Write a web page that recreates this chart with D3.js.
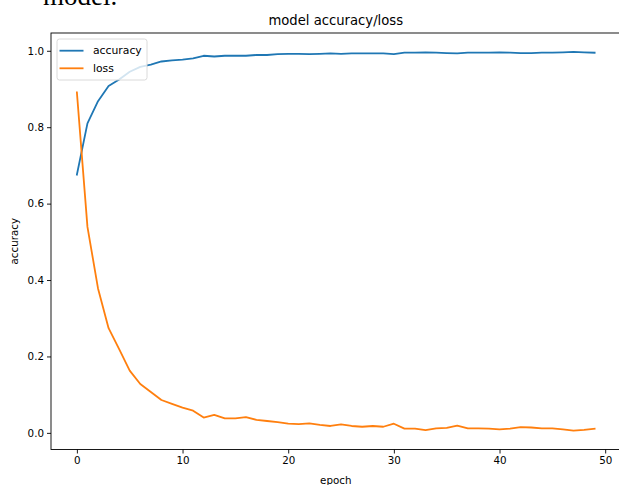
<!DOCTYPE html>
<html>
<head>
<meta charset="utf-8">
<script src="https://cdn.jsdelivr.net/npm/d3@7"></script>
<style>
  html, body { margin: 0; padding: 0; background: #fff; overflow: hidden; }
  text { font-family: "DejaVu Sans", sans-serif; fill: #000; }
</style>
</head>
<body>
<div id="content"></div>
<script>
// values
const epochs = d3.range(50);
const accuracy = [
  0.676, 0.810, 0.868, 0.908, 0.925, 0.945, 0.958, 0.964, 0.972, 0.975,
  0.977, 0.980, 0.987, 0.985, 0.987, 0.987, 0.987, 0.989, 0.989, 0.991,
  0.992, 0.992, 0.991, 0.992, 0.993, 0.992, 0.993, 0.993, 0.993, 0.993,
  0.991, 0.995, 0.995, 0.996, 0.995, 0.994, 0.993, 0.995, 0.995, 0.995,
  0.996, 0.995, 0.994, 0.994, 0.995, 0.995, 0.996, 0.997, 0.996, 0.995
];
const loss = [
  0.891, 0.539, 0.378, 0.274, 0.219, 0.163, 0.128, 0.107, 0.086, 0.076,
  0.066, 0.058, 0.040, 0.047, 0.038, 0.038, 0.041, 0.034, 0.031, 0.028,
  0.024, 0.023, 0.025, 0.021, 0.018, 0.022, 0.018, 0.016, 0.018, 0.016,
  0.024, 0.011, 0.011, 0.007, 0.012, 0.013, 0.019, 0.012, 0.012, 0.011,
  0.009, 0.011, 0.015, 0.014, 0.012, 0.012, 0.009, 0.006, 0.008, 0.011
];
const series = [
  { name: "accuracy", values: accuracy, color: "#1f77b4" },
  { name: "loss", values: loss, color: "#ff7f0e" }
];
const xTicks = [0, 10, 20, 30, 40, 50];
const yTicks = [0.0, 0.2, 0.4, 0.6, 0.8, 1.0];

const W = 619, H = 485;
const plotLeft = 51, plotRight = 620.5, plotTop = 33, plotBottom = 449.5;

const svg = d3.select("#content")
    .append("svg")
    .attr("width", W)
    .attr("height", H);

// matplotlib style 5% margins
function padded(lo, hi) {
    const m = (hi - lo) * 0.05;
    return [lo - m, hi + m];
}
const allY = accuracy.concat(loss);
const x = d3.scaleLinear().domain(padded(0, epochs.length - 1)).range([plotLeft, plotRight]);
const y = d3.scaleLinear().domain(padded(d3.min(allY), d3.max(allY))).range([plotBottom, plotTop]);

// text cut off at the top of the page
svg.append("text")
    .attr("x", 43)
    .attr("y", 5)
    .style("font-family", "'Liberation Serif', serif")
    .style("font-size", "27px")
    .text("model.");

const lineGen = d3.line()
    .x(function (d, i) { return x(epochs[i]); })
    .y(function (d) { return y(d); });

svg.append("g")
    .selectAll("path")
    .data(series)
    .enter()
    .append("path")
    .attr("d", function (d) { return lineGen(d.values); })
    .attr("fill", "none")
    .attr("stroke", function (d) { return d.color; })
    .attr("stroke-width", 1.8)
    .attr("stroke-linejoin", "round")
    .attr("stroke-linecap", "square");

// axes
const xAxis = svg.append("g")
    .attr("transform", "translate(0," + plotBottom + ")")
    .call(d3.axisBottom(x).tickValues(xTicks).tickSize(4).tickPadding(3).tickFormat(d3.format("d")));
const yAxis = svg.append("g")
    .attr("transform", "translate(" + plotLeft + ",0)")
    .call(d3.axisLeft(y).tickValues(yTicks).tickSize(4).tickPadding(3).tickFormat(d3.format(".1f")));

[xAxis, yAxis].forEach(function (a) {
    a.select(".domain").remove();
    a.selectAll("line").attr("stroke", "#000").attr("stroke-width", 0.9);
    a.selectAll("text")
        .style("font-family", "'DejaVu Sans', sans-serif")
        .style("font-size", "10.3px")
        .attr("fill", "#000");
});

// frame
svg.append("rect")
    .attr("x", plotLeft)
    .attr("y", plotTop)
    .attr("width", plotRight - plotLeft)
    .attr("height", plotBottom - plotTop)
    .attr("fill", "none")
    .attr("stroke", "#000")
    .attr("stroke-width", 0.9);

// title and labels
svg.append("text")
    .attr("x", (plotLeft + plotRight) / 2)
    .attr("y", 25)
    .attr("text-anchor", "middle")
    .style("font-size", "13.2px")
    .text("model accuracy/loss");

svg.append("text")
    .attr("x", (plotLeft + plotRight) / 2)
    .attr("y", 484)
    .attr("text-anchor", "middle")
    .style("font-size", "10.3px")
    .text("epoch");

svg.append("text")
    .attr("transform", "translate(18," + ((plotTop + plotBottom) / 2) + ") rotate(-90)")
    .attr("text-anchor", "middle")
    .style("font-size", "10.3px")
    .text("accuracy");

// legend
const legend = svg.append("g").attr("transform", "translate(57,39)");
legend.append("rect")
    .attr("width", 90)
    .attr("height", 41)
    .attr("rx", 2.5)
    .attr("fill", "#fff")
    .attr("fill-opacity", 0.8)
    .attr("stroke", "#d6d6d6")
    .attr("stroke-width", 0.9);

const items = legend.selectAll("g.item")
    .data(series)
    .enter()
    .append("g")
    .attr("class", "item")
    .attr("transform", function (d, i) { return "translate(0," + (11.7 + i * 17.6) + ")"; });
items.append("line")
    .attr("x1", 2.5)
    .attr("x2", 26.5)
    .attr("stroke", function (d) { return d.color; })
    .attr("stroke-width", 1.8);
items.append("text")
    .attr("x", 36)
    .attr("dy", "0.35em")
    .style("font-size", "10.8px")
    .text(function (d) { return d.name; });
</script>
</body>
</html>
